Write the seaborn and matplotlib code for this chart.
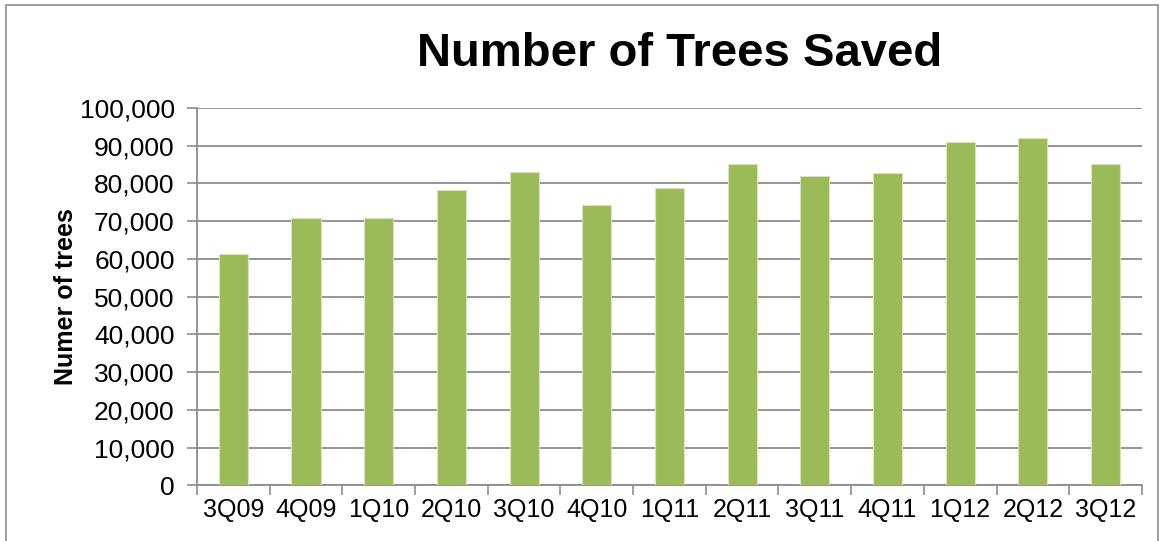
import numpy as np
import pandas as pd
import matplotlib
matplotlib.use('Agg')
import matplotlib.pyplot as plt
import seaborn as sns
from matplotlib.ticker import FuncFormatter, FixedLocator

# Data
quarters = ['3Q09', '4Q09', '1Q10', '2Q10', '3Q10', '4Q10', '1Q11',
            '2Q11', '3Q11', '4Q11', '1Q12', '2Q12', '3Q12']
trees_saved = [61400, 70800, 70900, 78200, 83000, 74200, 78700,
               85200, 82000, 82800, 91000, 92000, 85200]

df = pd.DataFrame({'Quarter': quarters, 'Trees': trees_saved})

sns.set_style('white')
plt.rcParams['font.family'] = ['Liberation Sans', 'DejaVu Sans']
plt.rcParams['text.color'] = 'black'
plt.rcParams['axes.labelcolor'] = 'black'
plt.rcParams['xtick.color'] = 'black'
plt.rcParams['ytick.color'] = 'black'

fig = plt.figure(figsize=(11.64, 5.41), dpi=100)
ax = fig.add_axes([0.1692, 0.1026, 0.8118, 0.6978])

sns.barplot(data=df, x='Quarter', y='Trees', color='#9BBB59', width=0.4,
            saturation=1, edgecolor='#D7E4BD', linewidth=0.8, ax=ax, zorder=3)

ax.set_ylim(0, 100000)
ax.set_xlim(-0.5, len(quarters) - 0.5)
ax.yaxis.set_major_locator(FixedLocator(np.arange(0, 100001, 10000)))
ax.yaxis.set_major_formatter(FuncFormatter(lambda v, p: f'{int(v):,}'))
ax.grid(axis='y', color='#8C8C8C', linewidth=1.3, zorder=0)
ax.set_axisbelow(True)

# x ticks: labels at centres, tick marks on category boundaries
ax.set_xticks(range(len(quarters)))
ax.set_xticklabels(quarters)
ax.set_xticks(np.arange(-0.5, len(quarters), 1), minor=True)
ax.tick_params(axis='x', which='both', bottom=True)
ax.tick_params(axis='y', which='both', left=True)
ax.tick_params(axis='x', which='major', length=0, labelsize=18, pad=9)
ax.tick_params(axis='x', which='minor', length=7, width=1.2, color='#8C8C8C', direction='out')
ax.tick_params(axis='y', which='major', length=7, width=1.2, color='#8C8C8C',
               direction='out', labelsize=19, pad=9, labelcolor='black')

for side in ['top', 'right']:
    ax.spines[side].set_visible(False)
for side in ['left', 'bottom']:
    ax.spines[side].set_color('#8C8C8C')
    ax.spines[side].set_linewidth(1.3)

ax.set_xlabel('')
ax.set_ylabel('Numer of trees', fontsize=18, fontweight='bold', labelpad=1)

fig.text(0.584, 0.9, 'Number of Trees Saved', ha='center', va='center',
         fontsize=34, fontweight='bold')

# outer chart border
fig.patches.append(plt.Rectangle((0.005, -0.02), 0.99, 1.01, transform=fig.transFigure,
                                 fill=False, edgecolor='#8C8C8C', linewidth=1.2))

fig.savefig('out.png', dpi=100)
